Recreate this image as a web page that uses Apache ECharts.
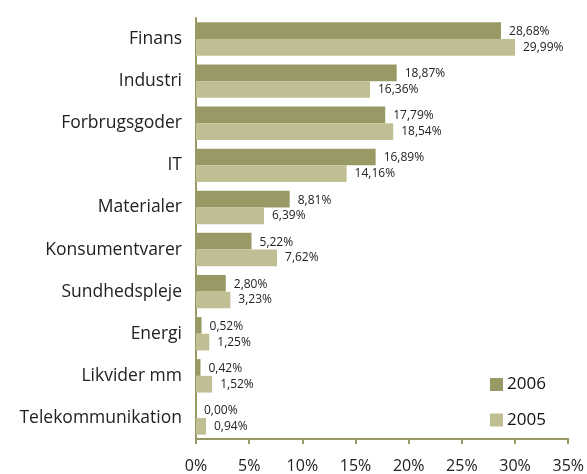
<!DOCTYPE html>
<html><head><meta charset="utf-8">
<script src="https://cdn.jsdelivr.net/npm/echarts@6/dist/echarts.min.js"></script>
<style>html,body{margin:0;padding:0;background:#fff}#c{width:587px;height:474px}</style>
</head><body><div id="c"></div>
<script>
const categories = ['Finans','Industri','Forbrugsgoder','IT','Materialer','Konsumentvarer','Sundhedspleje','Energi','Likvider mm','Telekommunikation'];
const values2006 = [28.68,18.87,17.79,16.89,8.81,5.22,2.80,0.52,0.42,0.00];
const values2005 = [29.99,16.36,18.54,14.16,6.39,7.62,3.23,1.25,1.52,0.94];
const seriesNames = ['2006','2005'];
const axisColor = '#999966';
const fmt = p => p.value.toFixed(2).replace('.', ',') + '%';
const chart = echarts.init(document.getElementById('c'));
const font = 'Open Sans';
chart.setOption({
  animation:false,
  textStyle:{fontFamily:font},
  grid:{left:196,right:17.5,top:18,bottom:33.3,containLabel:false},
  legend:{orient:'vertical',left:490,top:376,padding:0,itemWidth:13,itemHeight:13,itemGap:18.5,
    icon:'rect',textStyle:{fontSize:17,lineHeight:13,color:'#111',fontFamily:font,padding:[0,0,0,-1]},data:seriesNames},
  xAxis:{type:'value',min:0,max:35,interval:5,
    axisLine:{show:true,lineStyle:{color:axisColor,width:2}},
    axisTick:{show:true,length:5,lineStyle:{color:axisColor,width:2}},
    splitLine:{show:false},
    axisLabel:{formatter:'{value}%',margin:19,fontSize:16,color:'#222'}},
  yAxis:{type:'category',data:categories,inverse:true,
    axisLine:{lineStyle:{color:axisColor,width:2}},
    axisTick:{length:6,lineStyle:{color:axisColor,width:2}},
    axisLabel:{fontSize:17.5,color:'#222',margin:14}},
  series:[
    {name:seriesNames[0],type:'bar',data:values2006,barGap:'0%',barCategoryGap:'20.6%',
     itemStyle:{color:'#999966'},
     label:{show:true,position:'right',distance:8,offset:[0,1],fontSize:12,color:'#222',formatter:fmt}},
    {name:seriesNames[1],type:'bar',data:values2005,
     itemStyle:{color:'#c0bf94'},
     label:{show:true,position:'right',distance:8,fontSize:12,color:'#222',formatter:fmt}}
  ]
});
</script></body></html>
